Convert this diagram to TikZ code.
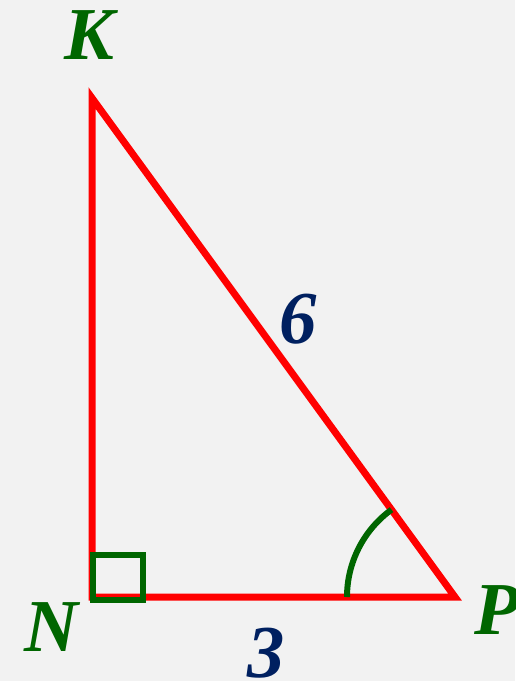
\documentclass[tikz,border=0pt]{standalone}
\usepackage{fontspec}
\setmainfont{Liberation Serif}
\definecolor{bg}{HTML}{F2F2F2}
\definecolor{tred}{HTML}{FF0000}
\definecolor{tgreen}{HTML}{006600}
\definecolor{tnavy}{HTML}{002060}
\tikzset{
  side/.style={draw=tred, line width=5.25pt, line join=miter},
  anglemark/.style={draw=tgreen, line width=4.5pt},
  vlabel/.style={text=tgreen, font=\fontsize{56}{60}\selectfont\bfseries\itshape, inner sep=0pt, anchor=base},
  slabel/.style={text=tnavy, font=\fontsize{56}{60}\selectfont\bfseries\itshape, inner sep=0pt, anchor=base}
}
\begin{document}
\begin{tikzpicture}[x=0.75pt,y=-0.75pt]
\fill[bg] (0,0) rectangle (515,681);
\useasboundingbox (0,0) rectangle (515,681);
\coordinate (K) at (92,98);
\coordinate (N) at (92,597);
\coordinate (P) at (455,597);
\draw[side] (K) -- (N) -- (P) -- cycle;
\draw[anglemark] (93,555) rectangle (143,600);
\draw[anglemark] (P) ++(180:108) arc[start angle=180, end angle=234, radius=108];
\node[vlabel] (lK) at (89,60) {K};
\node[vlabel] (lN) at (51,651) {N};
\node[vlabel] (lP) at (497,634) {P};
\node[slabel] (l6) at (298,343) {6};
\node[slabel] (l3) at (266,677) {3};
\end{tikzpicture}
\end{document}
